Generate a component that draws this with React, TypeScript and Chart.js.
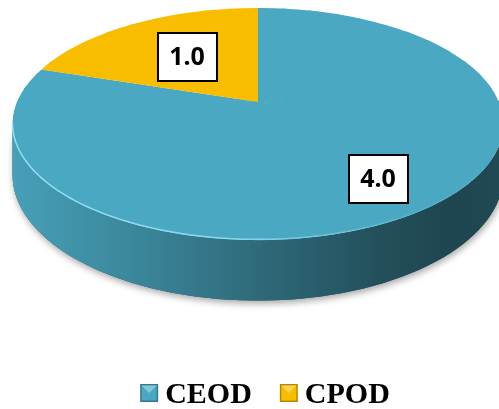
import React, { useEffect, useRef } from "react";
import { Chart, registerables } from "chart.js";

Chart.register(...registerables);

// ---- data ----
const categories = ["CEOD", "CPOD"];
const values = [4.0, 1.0];
const sliceColors = ["#4AA8C2", "#F9BD00"];
// radial fraction where each data label sits (style)
const labelRadius = [0.75, 0.54];

// ---- view / style constants ----
const W = 499;
const H = 409;
const VIEW = { cx: 258, cy: 102, A: 241, B: 111.9, k: 0.19, depth: 49 };
const LEGEND = { centerX: 265, boxTop: 384, box: 18, gap: 7, itemGap: 28, baseline: 403 };

function proj(u: number, v: number): [number, number] {
  const w = 1 - VIEW.k * v;
  return [VIEW.cx + (VIEW.A * u) / w, VIEW.cy + (VIEW.B * v) / w];
}
function projBottom(u: number, v: number): [number, number] {
  const w = 1 - VIEW.k * v;
  const p = proj(u, v);
  return [p[0], p[1] + VIEW.depth / w];
}

function hexToRgb(hex: string): [number, number, number] {
  const h = hex.replace("#", "");
  return [parseInt(h.slice(0, 2), 16), parseInt(h.slice(2, 4), 16), parseInt(h.slice(4, 6), 16)];
}
function shade(hex: string, f: number, a = 1) {
  const [r, g, b] = hexToRgb(hex);
  return `rgba(${Math.round(r * f)},${Math.round(g * f)},${Math.round(b * f)},${a})`;
}
function tint(hex: string, t: number) {
  const [r, g, b] = hexToRgb(hex);
  return `rgb(${Math.round(r + (255 - r) * t)},${Math.round(g + (255 - g) * t)},${Math.round(b + (255 - b) * t)})`;
}

const pie3d = {
  id: "pie3d",
  beforeDatasetDraw() {
    return false;
  },
  afterDatasetsDraw(chart: any) {
    const ctx: CanvasRenderingContext2D = chart.ctx;
    const meta = chart.getDatasetMeta(0);
    const arcs: any[] = meta.data;
    if (!arcs.length) return;
    const Cx = arcs[0].x;
    const Cy = arcs[0].y;
    const R = arcs[0].outerRadius;
    const ta = Math.asin(VIEW.k);
    const tb = Math.PI - ta;
    const xL = proj(Math.cos(tb), Math.sin(tb))[0];
    const xR = proj(Math.cos(ta), Math.sin(ta))[0];

    const sidePath = (lo: number, hi: number) => {
      const steps = Math.max(4, Math.ceil(((hi - lo) / Math.PI) * 80));
      ctx.beginPath();
      for (let s = 0; s <= steps; s++) {
        const t = lo + ((hi - lo) * s) / steps;
        const [x, y] = proj(Math.cos(t), Math.sin(t));
        if (s === 0) ctx.moveTo(x, y);
        else ctx.lineTo(x, y);
      }
      for (let s = steps; s >= 0; s--) {
        const t = lo + ((hi - lo) * s) / steps;
        const [x, y] = projBottom(Math.cos(t), Math.sin(t));
        ctx.lineTo(x, y);
      }
      ctx.closePath();
    };

    // shadow under the whole side
    ctx.save();
    ctx.shadowColor = "rgba(0,0,0,0.35)";
    ctx.shadowBlur = 7;
    ctx.shadowOffsetY = 3;
    ctx.shadowOffsetX = 1;
    sidePath(ta, tb);
    ctx.fillStyle = shade(sliceColors[0], 0.5);
    ctx.fill();
    ctx.restore();

    // side of each slice
    arcs.forEach((el: any, i: number) => {
      const { startAngle, endAngle } = el.getProps(["startAngle", "endAngle"], true);
      const color = sliceColors[i % sliceColors.length];
      for (let n = -1; n <= 1; n++) {
        const lo = Math.max(startAngle + 2 * Math.PI * n, ta);
        const hi = Math.min(endAngle + 2 * Math.PI * n, tb);
        if (lo < hi) {
          const g = ctx.createLinearGradient(xL, 0, xR, 0);
          g.addColorStop(0, shade(color, 0.95));
          g.addColorStop(0.25, shade(color, 0.8));
          g.addColorStop(0.5, shade(color, 0.63));
          g.addColorStop(0.75, shade(color, 0.47));
          g.addColorStop(0.9, shade(color, 0.41));
          g.addColorStop(1, shade(color, 0.44));
          ctx.save();
          sidePath(lo, hi);
          ctx.fillStyle = g;
          ctx.fill();
          ctx.restore();
        }
      }
    });

    // top face: library arcs drawn through piecewise perspective mapping
    const [p0x, p0y] = proj(0, 0);
    const N = 48;
    for (let i = 0; i < N; i++) {
      const t1 = -Math.PI + (i * 2 * Math.PI) / N;
      const t2 = t1 + (2 * Math.PI) / N;
      const c1 = Math.cos(t1), s1 = Math.sin(t1), c2 = Math.cos(t2), s2 = Math.sin(t2);
      const [p1x, p1y] = proj(c1, s1);
      const [p2x, p2y] = proj(c2, s2);
      const det = c1 * s2 - c2 * s1;
      const ax = p1x - p0x, bx = p2x - p0x, ay = p1y - p0y, by = p2y - p0y;
      const L11 = (ax * s2 - bx * s1) / det;
      const L12 = (-ax * c2 + bx * c1) / det;
      const L21 = (ay * s2 - by * s1) / det;
      const L22 = (-ay * c2 + by * c1) / det;
      const a = L11 / R, b = L21 / R, c = L12 / R, d = L22 / R;
      const e = p0x - a * Cx - c * Cy;
      const f = p0y - b * Cx - d * Cy;
      const tm = (t1 + t2) / 2;
      const [mx, my] = proj(Math.cos(tm), Math.sin(tm));
      const ml = Math.hypot(mx - p0x, my - p0y);
      // start the clip wedge a little behind the centre so wedges overlap there
      const bx0 = p0x - (6 * (mx - p0x)) / ml;
      const by0 = p0y - (6 * (my - p0y)) / ml;
      ctx.save();
      ctx.beginPath();
      ctx.moveTo(bx0, by0);
      for (let s = 0; s <= 4; s++) {
        const t = t1 - 0.012 + ((t2 - t1 + 0.024) * s) / 4;
        const [x, y] = proj(Math.cos(t), Math.sin(t));
        ctx.lineTo(p0x + 1.35 * (x - p0x), p0y + 1.35 * (y - p0y));
      }
      ctx.closePath();
      ctx.clip();
      ctx.transform(a, b, c, d, e, f);
      arcs.forEach((el: any) => el.draw(ctx));
      ctx.restore();
    }

    // light rim highlight on the front edge
    ctx.save();
    const hg = ctx.createLinearGradient(xL, 0, xR, 0);
    hg.addColorStop(0, "rgba(150,228,248,0.95)");
    hg.addColorStop(0.45, "rgba(150,228,248,0.8)");
    hg.addColorStop(0.8, "rgba(150,228,248,0.15)");
    hg.addColorStop(1, "rgba(150,228,248,0)");
    ctx.beginPath();
    for (let s = 0; s <= 120; s++) {
      const t = ta + ((tb - ta) * s) / 120;
      const [x, y] = proj(Math.cos(t), Math.sin(t));
      if (s === 0) ctx.moveTo(x, y - 0.8);
      else ctx.lineTo(x, y - 0.8);
    }
    ctx.strokeStyle = hg;
    ctx.lineWidth = 1.5;
    ctx.stroke();
    ctx.restore();

    // data labels
    arcs.forEach((el: any, i: number) => {
      const { startAngle, endAngle } = el.getProps(["startAngle", "endAngle"], true);
      const mid = (startAngle + endAngle) / 2;
      const fr = labelRadius[i % labelRadius.length];
      const [x, y] = proj(fr * Math.cos(mid), fr * Math.sin(mid));
      const bw = 59, bh = 48;
      ctx.save();
      ctx.fillStyle = "#ffffff";
      ctx.fillRect(Math.round(x - bw / 2), Math.round(y - bh / 2), bw, bh);
      ctx.strokeStyle = "#000000";
      ctx.lineWidth = 2;
      ctx.strokeRect(Math.round(x - bw / 2), Math.round(y - bh / 2), bw, bh);
      ctx.fillStyle = "#000000";
      ctx.font = 'bold 25px "Open Sans", Lato, sans-serif';
      ctx.textAlign = "center";
      ctx.textBaseline = "middle";
      ctx.fillText(values[i].toFixed(1), Math.round(x), Math.round(y) + 1);
      ctx.restore();
    });
  },
  afterDraw(chart: any) {
    const ctx: CanvasRenderingContext2D = chart.ctx;
    const labels: string[] = chart.data.labels;
    ctx.save();
    ctx.font = 'bold 30px "Liberation Serif", "Times New Roman", serif';
    const widths = labels.map((l) => LEGEND.box + LEGEND.gap + ctx.measureText(l).width);
    const total = widths.reduce((s, w) => s + w, 0) + LEGEND.itemGap * (labels.length - 1);
    let x = LEGEND.centerX - total / 2;
    labels.forEach((l, i) => {
      const color = sliceColors[i % sliceColors.length];
      const s = LEGEND.box;
      const y = LEGEND.boxTop;
      ctx.fillStyle = shade(color, 0.72);
      ctx.fillRect(x, y, s, s);
      ctx.fillStyle = color;
      ctx.fillRect(x + 1.5, y + 1.5, s - 3, s - 3);
      ctx.fillStyle = tint(color, 0.35);
      ctx.beginPath();
      ctx.moveTo(x + 1.5, y + 1.5);
      ctx.lineTo(x + s - 1.5, y + 1.5);
      ctx.lineTo(x + s / 2, y + s / 2);
      ctx.closePath();
      ctx.fill();
      ctx.fillStyle = "#000000";
      ctx.textAlign = "left";
      ctx.textBaseline = "alphabetic";
      ctx.fillText(l, x + s + LEGEND.gap, LEGEND.baseline);
      x += widths[i] + LEGEND.itemGap;
    });
    ctx.restore();
  },
};

export default function App() {
  const ref = useRef<HTMLCanvasElement | null>(null);
  useEffect(() => {
    if (!ref.current) return;
    const chart = new Chart(ref.current, {
      type: "pie",
      data: {
        labels: categories,
        datasets: [
          {
            data: values,
            backgroundColor: sliceColors,
            borderWidth: 0,
          },
        ],
      },
      options: {
        responsive: false,
        animation: false,
        events: [],
        layout: { padding: 0 },
        plugins: {
          legend: { display: false },
          tooltip: { enabled: false },
        },
      },
      plugins: [pie3d as any],
    });
    return () => chart.destroy();
  }, []);
  return (
    <div style={{ position: "absolute", left: 0, top: 0, width: W, height: H, background: "#fff" }}>
      <canvas ref={ref} width={W} height={H} style={{ display: "block", width: W, height: H }} />
    </div>
  );
}
